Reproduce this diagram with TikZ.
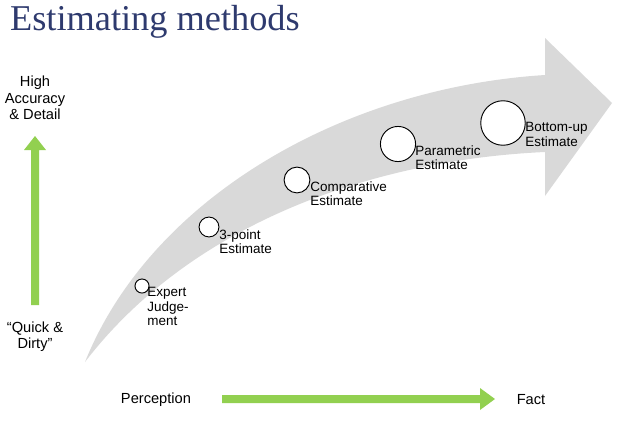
\documentclass[tikz,border=0pt]{standalone}
\usepackage{fontspec}
\setmainfont{Liberation Sans}
\newfontfamily\titlefont{Liberation Serif}
\usetikzlibrary{positioning}
\definecolor{titleblue}{RGB}{46,58,110}
\definecolor{arrowgray}{RGB}{217,217,217}
\definecolor{limegreen}{RGB}{146,208,80}

\begin{document}
\begin{tikzpicture}[
x=0.03cm, y=-0.03cm,
font=\fontsize{11.5}{12.5}\selectfont,
method/.style={circle,draw=black,thick,fill=white,inner sep=0pt},
tag/.style={align=left,inner sep=1pt},
side/.style={align=center,inner sep=1pt},
greenarrow/.style={draw=none,fill=limegreen}
]
    % Frame
    \useasboundingbox (0,0) rectangle (629,420);

    % Title
    \node[anchor=west,text=titleblue,font=\titlefont\fontsize{31}{34}\selectfont] (title) at (6,22) {Estimating methods};

    % Big curved arrow
    \fill[arrowgray] (85,362) .. controls (150,200) and (340,88) .. (545,75)
        -- (545,38) -- (612,103) -- (545,196) -- (545,152)
        .. controls (370,160) and (190,225) .. (85,362);

    % Methods
    \node[method,minimum size=12pt] (expert) at (142,286) {};
    \node[method,minimum size=17pt] (threept) at (209,227) {};
    \node[method,minimum size=22pt] (compar) at (297,180) {};
    \node[method,minimum size=30pt] (param) at (398,144) {};
    \node[method,minimum size=38pt] (bottom) at (503,123) {};

    \node[tag,anchor=north west] (expertlbl) at (146,286) {Expert\\Judge-\\ment};
    \node[tag,anchor=north west] (threeptlbl) at (218,228) {3-point\\Estimate};
    \node[tag,anchor=north west] (comparlbl) at (309,180) {Comparative\\Estimate};
    \node[tag,anchor=north west] (paramlbl) at (414,144) {Parametric\\Estimate};
    \node[tag,anchor=north west] (bottomlbl) at (524,121) {Bottom-up\\Estimate};

    % Left axis
    \node[side,font=\fontsize{12.5}{14}\selectfont] (high) at (35,98) {High\\Accuracy\\\& Detail};
    \node[side,font=\fontsize{12.5}{14}\selectfont] (quick) at (35,337) {``Quick \&\\Dirty''};
    \fill[greenarrow] (31,305) -- (31,150) -- (24,150) -- (35,136) -- (46,150) -- (39,150) -- (39,305) -- cycle;

    % Bottom axis
    \node[font=\fontsize{12.5}{14}\selectfont] (percep) at (156,400) {Perception};
    \node[font=\fontsize{12.5}{14}\selectfont] (fact) at (531,400) {Fact};
    \fill[greenarrow] (222,395) -- (480,395) -- (480,388) -- (495,399) -- (480,410) -- (480,403) -- (222,403) -- cycle;
\end{tikzpicture}
\end{document}
